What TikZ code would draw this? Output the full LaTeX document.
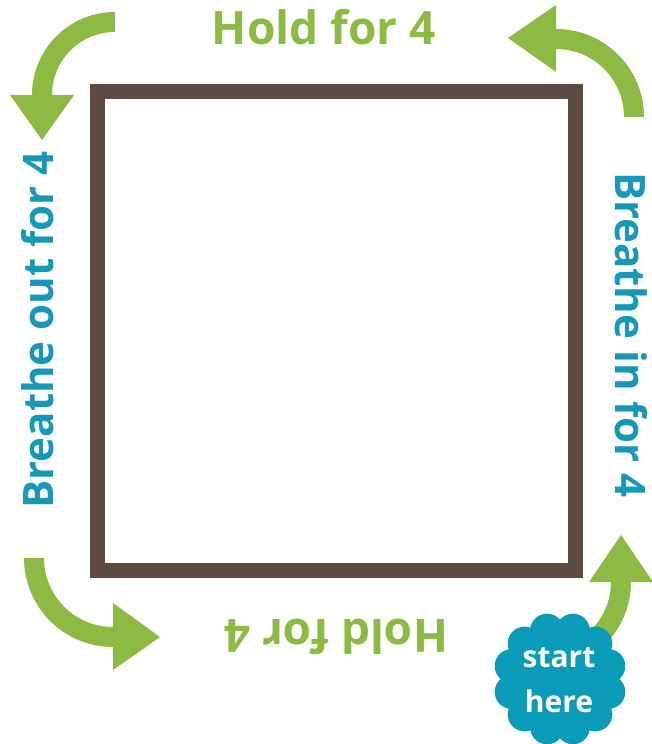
\documentclass[tikz,border=0pt]{standalone}
\usepackage{fontspec}
\setmainfont{Open Sans}
\usepackage{tikz}
\usetikzlibrary{calc}
\definecolor{boxbrown}{HTML}{5D4A40}
\definecolor{leafgreen}{HTML}{8CBA43}
\definecolor{seablue}{HTML}{1798B6}
\definecolor{badgeblue}{HTML}{0A9BB8}

\begin{document}
\begin{tikzpicture}[x=1pt, y=1pt,
    curve/.style={leafgreen, line width=20},
    head/.style={fill=leafgreen},
    holdtext/.style={leafgreen, inner sep=0, anchor=base, font=\bfseries\fontsize{46}{50}\selectfont},
    breathtext/.style={seablue, inner sep=0, anchor=base, font=\bfseries\fontsize{42}{46}\selectfont}]
    \useasboundingbox (0,0) rectangle (652,744);

    % 1. The square
    \draw[boxbrown, line width=15] (97.5,173.5) rectangle (575.5,652.5);

    % 2. Corner arrows
    \draw[curve] (115,722) arc (90:180:73);
    \fill[head] (10,649) -- (74,649) -- (42,604) -- cycle;
    \draw[curve] (634,627) arc (0:90:78);
    \fill[head] (556,739) -- (556,672) -- (508,706) -- cycle;
    \draw[curve] (34,186) arc (180:270:79);
    \fill[head] (113,141) -- (113,74) -- (160,107) -- cycle;
    \draw[curve] (621,162) arc (0:-50:78);
    \fill[head] (589,162) -- (653,162) -- (621,209) -- cycle;

    % 3. Labels
    \node[holdtext] (holdtop) at (324,699) {Hold for 4};
    \node[holdtext, rotate=180] (holdbottom) at (336,124) {Hold for 4};
    \node[breathtext, rotate=90] (breatheout) at (53,414) {Breathe out for 4};
    \node[breathtext, rotate=-90] (breathein) at (615,409) {Breathe in for 4};

    % 4. Start badge
    \fill[badgeblue] (560,65) circle (52);
    \foreach \a in {15,45,...,345}
        \fill[badgeblue] ($(560,65)+(\a:50)$) circle (17);
    \node[white, align=center, font=\bfseries\fontsize{30}{45}\selectfont] (start) at (559,64) {start\\here};
\end{tikzpicture}
\end{document}
